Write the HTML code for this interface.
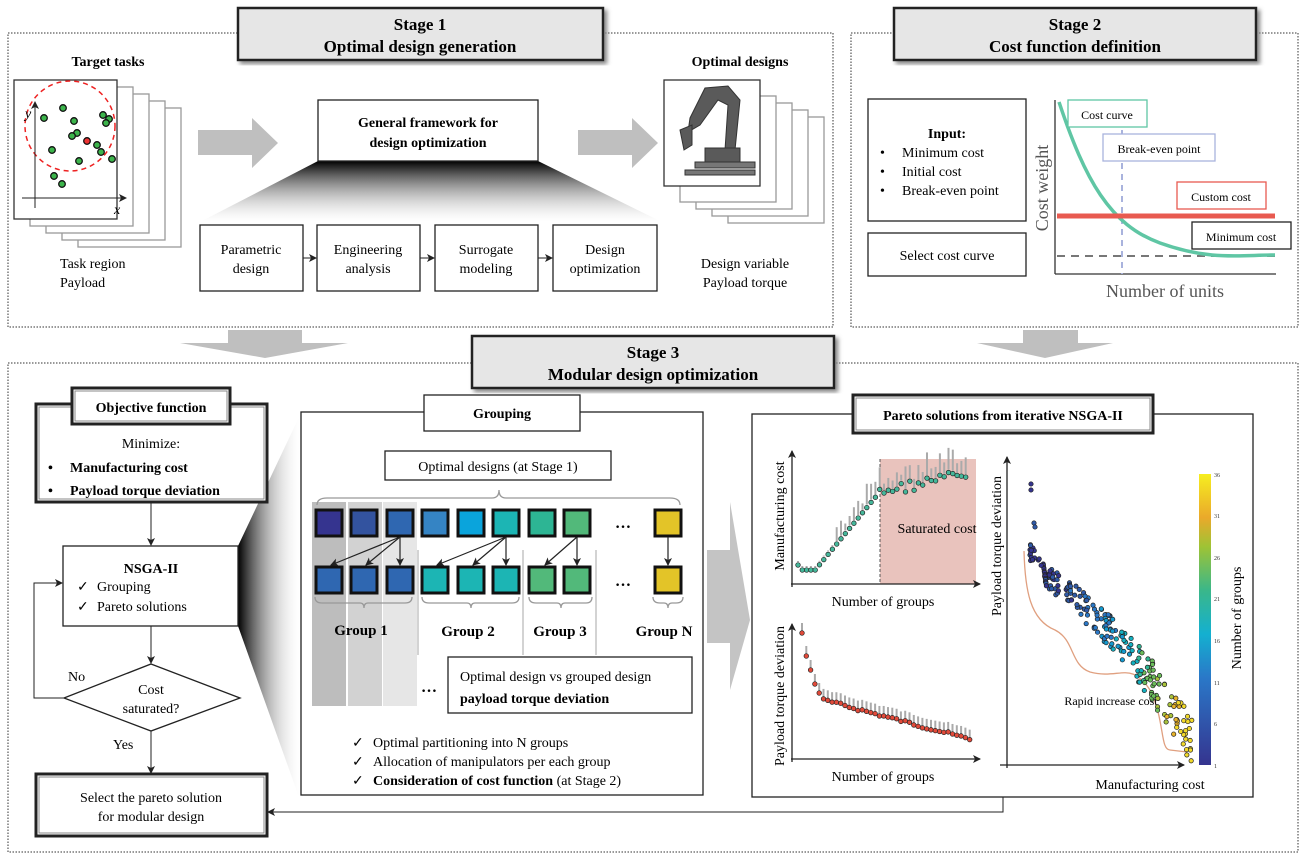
<!DOCTYPE html>
<html><head><meta charset="utf-8"><style>
html,body{margin:0;padding:0;background:#fff}
svg{display:block;font-family:"Liberation Serif",serif}
</style></head><body>
<svg id="s" width="1307" height="860" viewBox="0 0 1307 860" xmlns="http://www.w3.org/2000/svg">
<defs>
<linearGradient id="fun" x1="0" y1="0" x2="0" y2="1"><stop offset="0" stop-color="#000"/><stop offset="1" stop-color="#fff" stop-opacity="0.2"/></linearGradient>
<linearGradient id="fun2" x1="0" y1="0" x2="1" y2="0"><stop offset="0" stop-color="#000"/><stop offset="1" stop-color="#fff" stop-opacity="0.1"/></linearGradient>
<linearGradient id="cb" x1="0" y1="1" x2="0" y2="0"><stop offset="0" stop-color="#35348f"/><stop offset="0.3" stop-color="#2a78c8"/><stop offset="0.45" stop-color="#14b0d0"/><stop offset="0.6" stop-color="#3ab78a"/><stop offset="0.75" stop-color="#9ec335"/><stop offset="0.85" stop-color="#eaa92a"/><stop offset="1" stop-color="#f6ee20"/></linearGradient>
<marker id="ah" markerWidth="8" markerHeight="8" refX="7" refY="4" orient="auto" markerUnits="userSpaceOnUse"><path d="M0,0 L8,4 L0,8 L2,4z" fill="#222"/></marker>
<filter id="sh"><feDropShadow dx="3" dy="3" stdDeviation="2" flood-color="#888"/></filter>
</defs>

<!-- Stage 1 -->
<rect x="8" y="33" width="825" height="294" fill="none" stroke="#333" stroke-dasharray="1.5,1.5"/>
<rect x="238" y="8" width="365" height="52" fill="#e6e6e6" stroke="#222" stroke-width="2.5" filter="url(#sh)"/>
<text x="420" y="30" font-size="17" font-weight="bold" text-anchor="middle">Stage 1</text>
<text x="420" y="52" font-size="17" font-weight="bold" text-anchor="middle">Optimal design generation</text>

<text x="108" y="66" font-size="14" font-weight="bold" text-anchor="middle">Target tasks</text>
<g fill="#fff" stroke="#999" stroke-width="1.3">
<rect x="78" y="108" width="103" height="139"/><rect x="62" y="101" width="103" height="139"/><rect x="46" y="94" width="103" height="139"/><rect x="30" y="87" width="103" height="139"/>
</g>
<rect x="14" y="80" width="103" height="139" fill="#fff" stroke="#333" stroke-width="1.3"/>
<circle cx="70" cy="126" r="45" fill="none" stroke="#e22" stroke-width="1.5" stroke-dasharray="5,4"/>
<line x1="35" y1="208" x2="35" y2="102" stroke="#222" marker-end="url(#ah)"/>
<line x1="22" y1="198" x2="126" y2="198" stroke="#222" marker-end="url(#ah)"/>
<text x="25" y="118" font-size="14" font-style="italic">y</text>
<text x="114" y="214" font-size="14" font-style="italic">x</text>
<g fill="#3cb44b" stroke="#111" stroke-width="1.3">
<circle cx="44" cy="118" r="3.3"/><circle cx="63" cy="108" r="3.3"/><circle cx="74" cy="121" r="3.3"/><circle cx="77" cy="133" r="3.3"/><circle cx="72" cy="136" r="3.3"/><circle cx="103" cy="115" r="3.3"/><circle cx="109" cy="119" r="3.3"/><circle cx="106" cy="123" r="3.3"/><circle cx="52" cy="150" r="3.3"/><circle cx="97" cy="145" r="3.3"/><circle cx="101" cy="152" r="3.3"/><circle cx="112" cy="159" r="3.3"/><circle cx="79" cy="161" r="3.3"/><circle cx="54" cy="176" r="3.3"/><circle cx="62" cy="184" r="3.3"/>
</g>
<circle cx="87" cy="141" r="3.3" fill="#e33" stroke="#111" stroke-width="1.3"/>
<text x="60" y="268" font-size="14">Task region</text>
<text x="60" y="287" font-size="14">Payload</text>

<path d="M198,130 H252 V118 L278,143 L252,168 V155 H198z" fill="#bfbfbf"/>
<path d="M578,130 H632 V118 L658,143 L632,168 V155 H578z" fill="#bfbfbf"/>

<path d="M318,161 H538 L662,222 H200z" fill="url(#fun)"/>
<rect x="318" y="100" width="220" height="61" fill="#fff" stroke="#222" stroke-width="1.3"/>
<text x="428" y="127" font-size="14" font-weight="bold" text-anchor="middle">General framework for</text>
<text x="428" y="147" font-size="14" font-weight="bold" text-anchor="middle">design optimization</text>
<g fill="#fff" stroke="#222" stroke-width="1.3">
<rect x="200" y="225" width="103" height="66"/><rect x="317" y="225" width="103" height="66"/><rect x="435" y="225" width="103" height="66"/><rect x="553" y="225" width="104" height="66"/>
</g>
<g stroke="#222" marker-end="url(#ah)"><line x1="303" y1="258" x2="316" y2="258"/><line x1="420" y1="258" x2="434" y2="258"/><line x1="538" y1="258" x2="552" y2="258"/></g>
<g font-size="14" text-anchor="middle">
<text x="251" y="254">Parametric</text><text x="251" y="273">design</text>
<text x="368" y="254">Engineering</text><text x="368" y="273">analysis</text>
<text x="486" y="254">Surrogate</text><text x="486" y="273">modeling</text>
<text x="605" y="254">Design</text><text x="605" y="273">optimization</text>
</g>

<text x="740" y="66" font-size="14" font-weight="bold" text-anchor="middle">Optimal designs</text>
<g fill="#fff" stroke="#999" stroke-width="1.3">
<rect x="728" y="117" width="96" height="106"/><rect x="712" y="110" width="96" height="106"/><rect x="696" y="103" width="96" height="106"/><rect x="680" y="96" width="96" height="106"/>
</g>
<rect x="664" y="80" width="96" height="106" fill="#fff" stroke="#333" stroke-width="1.3"/>
<g fill="#5a5a5a" stroke="#333">
<path d="M690,118 L705,88 L728,86 L740,100 L735,150 L725,150 L728,105 L718,100 L700,125 L688,132z"/>
<rect x="705" y="148" width="35" height="16"/>
<rect x="695" y="162" width="60" height="6" fill="#777"/>
<rect x="685" y="170" width="70" height="5" fill="#777"/>
<path d="M680,130 L692,125 L692,145 L684,150z"/>
</g>
<text x="745" y="268" font-size="14" text-anchor="middle">Design variable</text>
<text x="745" y="287" font-size="14" text-anchor="middle">Payload torque</text>

<!-- Stage 2 -->
<rect x="851" y="33" width="447" height="294" fill="none" stroke="#333" stroke-dasharray="1.5,1.5"/>
<rect x="894" y="8" width="362" height="52" fill="#e6e6e6" stroke="#222" stroke-width="2.5" filter="url(#sh)"/>
<text x="1075" y="30" font-size="17" font-weight="bold" text-anchor="middle">Stage 2</text>
<text x="1075" y="52" font-size="17" font-weight="bold" text-anchor="middle">Cost function definition</text>
<rect x="868" y="99" width="158" height="122" fill="#fff" stroke="#222" stroke-width="1.3"/>
<text x="947" y="138" font-size="14" font-weight="bold" text-anchor="middle">Input:</text>
<g font-size="14"><text x="880" y="157">•</text><text x="902" y="157">Minimum cost</text><text x="880" y="176">•</text><text x="902" y="176">Initial cost</text><text x="880" y="195">•</text><text x="902" y="195">Break-even point</text></g>
<rect x="868" y="233" width="158" height="43" fill="#fff" stroke="#222" stroke-width="1.3"/>
<text x="947" y="260" font-size="14" text-anchor="middle">Select cost curve</text>
<line x1="1055" y1="100" x2="1055" y2="274" stroke="#333" stroke-width="1.3"/>
<line x1="1055" y1="274" x2="1276" y2="274" stroke="#333" stroke-width="1.3"/>
<line x1="1122" y1="130" x2="1122" y2="274" stroke="#a9b3dd" stroke-width="2" stroke-dasharray="6,5"/>
<line x1="1057" y1="256" x2="1275" y2="256" stroke="#777" stroke-width="2" stroke-dasharray="8,6"/>
<path d="M1059,102 C1085,180 1110,225 1160,243 S1240,255 1275,255" fill="none" stroke="#5fc6a4" stroke-width="3.5"/>
<line x1="1057" y1="216" x2="1275" y2="216" stroke="#e85a50" stroke-width="5"/>
<text transform="translate(1048,188) rotate(-90)" font-size="18" fill="#555" text-anchor="middle">Cost weight</text>
<text x="1165" y="297" font-size="18" fill="#555" text-anchor="middle">Number of units</text>
<rect x="1068" y="100" width="79" height="27" fill="#fff" stroke="#5fc6a4" stroke-width="1.3"/><text x="1107" y="119" font-size="12" text-anchor="middle">Cost curve</text>
<rect x="1103" y="134" width="112" height="27" fill="#fff" stroke="#a9b3dd" stroke-width="1.3"/><text x="1159" y="153" font-size="12" text-anchor="middle">Break-even point</text>
<rect x="1177" y="182" width="89" height="27" fill="#fff" stroke="#e85a50" stroke-width="1.3"/><text x="1221" y="201" font-size="12" text-anchor="middle">Custom cost</text>
<rect x="1192" y="222" width="99" height="27" fill="#fff" stroke="#222" stroke-width="1.3"/><text x="1241" y="241" font-size="12" text-anchor="middle">Minimum cost</text>

<!-- down arrows -->
<path d="M228,330 H302 V343 H348 L265,358 L180,343 H228z" fill="#bfbfbf"/>
<path d="M1023,330 H1078 V343 H1113 L1045,358 L977,343 H1023z" fill="#bfbfbf"/>

<!-- Stage 3 -->
<rect x="8" y="363" width="1290" height="489" fill="none" stroke="#333" stroke-dasharray="1.5,1.5"/>
<rect x="472" y="336" width="362" height="52" fill="#e6e6e6" stroke="#222" stroke-width="2.5" filter="url(#sh)"/>
<text x="653" y="358" font-size="17" font-weight="bold" text-anchor="middle">Stage 3</text>
<text x="653" y="380" font-size="17" font-weight="bold" text-anchor="middle">Modular design optimization</text>

<path d="M238,546 L300,415 V800 L238,626z" fill="url(#fun2)"/>

<rect x="36" y="404" width="231" height="98" fill="#fff" stroke="#222" stroke-width="3"/>
<rect x="39" y="407" width="225" height="92" fill="none" stroke="#888" stroke-width="1"/>
<rect x="72" y="388" width="158" height="36" fill="#fff" stroke="#222" stroke-width="3"/>
<rect x="75" y="391" width="152" height="30" fill="none" stroke="#888" stroke-width="1"/>
<text x="151" y="412" font-size="14" font-weight="bold" text-anchor="middle">Objective function</text>
<text x="151" y="448" font-size="14" text-anchor="middle">Minimize:</text>
<g font-size="14" font-weight="bold"><text x="48" y="472">•</text><text x="70" y="472">Manufacturing cost</text><text x="48" y="495">•</text><text x="70" y="495">Payload torque deviation</text></g>
<line x1="151" y1="502" x2="151" y2="545" stroke="#222" marker-end="url(#ah)"/>
<rect x="63" y="546" width="175" height="80" fill="#fff" stroke="#222" stroke-width="1.3"/>
<text x="151" y="573" font-size="14" font-weight="bold" text-anchor="middle">NSGA-II</text>
<g font-size="14"><text x="77" y="591">✓</text><text x="97" y="591">Grouping</text><text x="77" y="611">✓</text><text x="97" y="611">Pareto solutions</text></g>
<line x1="151" y1="626" x2="151" y2="663" stroke="#222" marker-end="url(#ah)"/>
<path d="M151,664 L240,698 L151,731 L64,698z" fill="#fff" stroke="#222" stroke-width="1.3"/>
<text x="151" y="694" font-size="14" text-anchor="middle">Cost</text>
<text x="151" y="713" font-size="14" text-anchor="middle">saturated?</text>
<polyline points="64,698 34,698 34,583 62,583" fill="none" stroke="#222" marker-end="url(#ah)"/>
<text x="68" y="681" font-size="14">No</text>
<text x="113" y="749" font-size="14">Yes</text>
<line x1="151" y1="731" x2="151" y2="773" stroke="#222" marker-end="url(#ah)"/>
<rect x="36" y="774" width="231" height="62" fill="#fff" stroke="#222" stroke-width="3"/>
<rect x="39" y="777" width="225" height="56" fill="none" stroke="#888" stroke-width="1"/>
<text x="151" y="802" font-size="14" text-anchor="middle">Select the pareto solution</text>
<text x="151" y="821" font-size="14" text-anchor="middle">for modular design</text>

<!-- Grouping -->
<rect x="301" y="412" width="402" height="383" fill="#fff" stroke="#222" stroke-width="1.3"/>
<rect x="312" y="502" width="34" height="204" fill="#bdbdbd"/>
<rect x="348" y="502" width="34" height="204" fill="#d2d2d2"/>
<rect x="383" y="502" width="34" height="204" fill="#e6e6e6"/>
<rect x="424" y="395" width="156" height="36" fill="#fff" stroke="#222" stroke-width="1.3"/>
<text x="502" y="418" font-size="14" font-weight="bold" text-anchor="middle">Grouping</text>
<rect x="385" y="451" width="226" height="29" fill="#fff" stroke="#222" stroke-width="1.3"/>
<text x="498" y="471" font-size="14" text-anchor="middle">Optimal designs (at Stage 1)</text>
<path d="M317,505 Q317,498 327,498 H492 Q499,498 499,490 Q499,498 506,498 H670 Q680,498 680,505" fill="none" stroke="#999" stroke-width="1.3"/>
<g stroke="#bbb" stroke-width="1.3"><line x1="418" y1="550" x2="418" y2="655"/><line x1="523" y1="550" x2="523" y2="655"/><line x1="596" y1="550" x2="596" y2="655"/></g>
<g stroke="#111" stroke-width="3">
<rect x="316" y="510" width="26" height="26" fill="#35348f"/><rect x="351" y="510" width="26" height="26" fill="#33539f"/><rect x="387" y="510" width="26" height="26" fill="#2f67b1"/>
<rect x="422" y="510" width="26" height="26" fill="#3584c4"/><rect x="458" y="510" width="26" height="26" fill="#0aa4dc"/><rect x="493" y="510" width="26" height="26" fill="#1cb5b4"/>
<rect x="529" y="510" width="26" height="26" fill="#2db594"/><rect x="564" y="510" width="26" height="26" fill="#52b97a"/><rect x="655" y="510" width="26" height="26" fill="#e3c428"/>
<rect x="316" y="567" width="26" height="26" fill="#2f67b1"/><rect x="351" y="567" width="26" height="26" fill="#2f67b1"/><rect x="387" y="567" width="26" height="26" fill="#2f67b1"/>
<rect x="422" y="567" width="26" height="26" fill="#1cb5b4"/><rect x="458" y="567" width="26" height="26" fill="#1cb5b4"/><rect x="493" y="567" width="26" height="26" fill="#1cb5b4"/>
<rect x="529" y="567" width="26" height="26" fill="#52b97a"/><rect x="564" y="567" width="26" height="26" fill="#52b97a"/><rect x="655" y="567" width="26" height="26" fill="#e3c428"/>
</g>
<g stroke="#222" stroke-width="1.2" marker-end="url(#ah)">
<line x1="400" y1="537" x2="331" y2="565"/><line x1="400" y1="537" x2="366" y2="565"/><line x1="400" y1="537" x2="400" y2="565"/>
<line x1="506" y1="537" x2="437" y2="565"/><line x1="506" y1="537" x2="473" y2="565"/><line x1="506" y1="537" x2="506" y2="565"/>
<line x1="577" y1="537" x2="545" y2="565"/><line x1="577" y1="537" x2="577" y2="565"/>
<line x1="668" y1="537" x2="668" y2="565"/>
</g>
<g font-size="16" font-weight="bold" text-anchor="middle"><text x="623" y="528">…</text><text x="623" y="586">…</text><text x="429" y="692">…</text></g>
<g fill="none" stroke="#999" stroke-width="1.3">
<path d="M315,597 Q315,603 322,603 H360 Q364,603 364,608 Q364,603 368,603 H405 Q412,603 412,597"/>
<path d="M422,597 Q422,603 429,603 H467 Q471,603 471,608 Q471,603 475,603 H512 Q519,603 519,597"/>
<path d="M529,597 Q529,603 536,603 H557 Q561,603 561,608 Q561,603 565,603 H586 Q592,603 592,597"/>
<path d="M653,597 Q653,603 660,603 H664 Q668,603 668,608 Q668,603 672,603 H676 Q683,603 683,597"/>
</g>
<g font-size="15" font-weight="bold" text-anchor="middle"><text x="361" y="635">Group 1</text><text x="468" y="636">Group 2</text><text x="560" y="636">Group 3</text><text x="664" y="636">Group N</text></g>
<rect x="448" y="657" width="244" height="56" fill="#fff" stroke="#222" stroke-width="1.3"/>
<text x="460" y="681" font-size="14">Optimal design vs grouped design</text>
<text x="460" y="703" font-size="14" font-weight="bold">payload torque deviation</text>
<g font-size="14"><text x="352" y="747">✓</text><text x="373" y="747">Optimal partitioning into N groups</text>
<text x="352" y="766">✓</text><text x="373" y="766">Allocation of manipulators per each group</text>
<text x="352" y="785">✓</text><text x="373" y="785"><tspan font-weight="bold">Consideration of cost function</tspan> (at Stage 2)</text></g>

<path d="M707,550 H730 V502 L750,620 L730,690 V643 H707z" fill="#c4c4c4"/>

<!-- Pareto -->
<rect x="752" y="414" width="501" height="383" fill="#fff" stroke="#222" stroke-width="1.3"/>
<rect x="853" y="395" width="300" height="38" fill="#fff" stroke="#222" stroke-width="3"/>
<rect x="856" y="398" width="294" height="32" fill="none" stroke="#888"/>
<text x="1003" y="420" font-size="14" font-weight="bold" text-anchor="middle">Pareto solutions from iterative NSGA-II</text>

<rect x="880" y="459" width="96" height="125" fill="#e9c3bd"/>
<line x1="880" y1="459" x2="880" y2="584" stroke="#555" stroke-dasharray="3,2"/>
<line x1="792" y1="587" x2="792" y2="451" stroke="#222" stroke-width="1.3" marker-end="url(#ah)"/>
<line x1="791" y1="584" x2="980" y2="584" stroke="#222" stroke-width="1.3" marker-end="url(#ah)"/>
<text x="937" y="533" font-size="14" text-anchor="middle">Saturated cost</text>
<text x="883" y="606" font-size="14" text-anchor="middle">Number of groups</text>
<text transform="translate(784,516) rotate(-90)" font-size="14" text-anchor="middle">Manufacturing cost</text>
<line x1="792" y1="762" x2="792" y2="624" stroke="#222" stroke-width="1.3" marker-end="url(#ah)"/>
<line x1="791" y1="759" x2="980" y2="759" stroke="#222" stroke-width="1.3" marker-end="url(#ah)"/>
<text x="883" y="781" font-size="14" text-anchor="middle">Number of groups</text>
<text transform="translate(784,696) rotate(-90)" font-size="14" text-anchor="middle">Payload torque deviation</text>
<g id="p1"></g><g id="p2"></g>

<line x1="1007" y1="768" x2="1007" y2="457" stroke="#222" stroke-width="1.3" marker-end="url(#ah)"/>
<line x1="1000" y1="765" x2="1184" y2="765" stroke="#222" stroke-width="1.3" marker-end="url(#ah)"/>
<text x="1150" y="789" font-size="14" text-anchor="middle">Manufacturing cost</text>
<text transform="translate(1001,546) rotate(-90)" font-size="14" text-anchor="middle">Payload torque deviation</text>
<path d="M1024,551 C1025,590 1030,620 1055,630 C1075,640 1070,665 1090,672 C1120,680 1130,660 1150,690 C1165,720 1160,750 1170,750 L1187,752" fill="none" stroke="#e0a080" stroke-width="1.3"/>
<text x="1111" y="705" font-size="12" text-anchor="middle">Rapid increase cost</text>
<g id="p3"></g>
<rect x="1199" y="474" width="12" height="291" fill="url(#cb)"/>
<g font-size="6" fill="#333"><text x="1214" y="477">36</text><text x="1214" y="518">31</text><text x="1214" y="560">26</text><text x="1214" y="601">21</text><text x="1214" y="643">16</text><text x="1214" y="685">11</text><text x="1214" y="726">6</text><text x="1214" y="768">1</text></g>
<text transform="translate(1241,618) rotate(-90)" font-size="14" text-anchor="middle">Number of groups</text>

<polyline points="1003,797 1003,812 268,812" fill="none" stroke="#222" marker-end="url(#ah)"/>
</svg>
<script>
(function(){
var NS="http://www.w3.org/2000/svg";
function c(g,x,y,f,r){var e=document.createElementNS(NS,"circle");e.setAttribute("cx",x);e.setAttribute("cy",y);e.setAttribute("r",r||2.3);e.setAttribute("fill",f);e.setAttribute("stroke","#222");e.setAttribute("stroke-width","0.7");g.appendChild(e);}
function l(g,x,y1,y2){var e=document.createElementNS(NS,"line");e.setAttribute("x1",x);e.setAttribute("x2",x);e.setAttribute("y1",y1);e.setAttribute("y2",y2);e.setAttribute("stroke","#aaa");e.setAttribute("stroke-width","2");g.appendChild(e);}
var g1=document.getElementById("p1"),g2=document.getElementById("p2"),g3=document.getElementById("p3");
var seed=7;function rnd(){seed=(seed*9301+49297)%233280;return seed/233280;}
for(var i=0;i<40;i++){var x=798+i*4.3;var y;
 if(i<4)y=570-(i==0?5:0); else if(i<19)y=570-(i-4)*5.2; else y=492-(i-19)*0.9+(rnd()-0.5)*12;
 l(g1,x,y-(i>8?8+rnd()*18:4),y-3);c(g1,x,y,"#45b79a");}
for(var i=0;i<40;i++){var x=802+i*4.3;var y;
 if(i==0)y=633;else if(i==1)y=656;else if(i==2)y=670;else if(i==3)y=684;else if(i==4)y=693;else y=700+(i-5)*1.15+(rnd()-0.5)*3;
 l(g2,x,y-10,y-2);c(g2,x,y,"#e24a3a");}
var cols=["#35348f","#2f5aa8","#2a78c8","#1499cf","#14b0c0","#2db594","#6bbd5a","#a9c33a","#e7b12a","#f2d92a"];
var pts=[[1031,484,0],[1031,490,0],[1034,523,1],[1035,527,1],[1030,555,1]];
for(var i=0;i<230;i++){var t=rnd();var x=1030+t*162;var base=(t<0.08)?(550+t*250):(565+t*120+t*t*t*60);var y=base+(rnd()-0.5)*(20+t*30);var ci=Math.min(9,Math.floor(t*t*10+rnd()*1.5));pts.push([x,y,ci]);}
pts.forEach(function(p){c(g3,p[0],p[1],cols[p[2]],2.2);});
})();
</script>
</body></html>
